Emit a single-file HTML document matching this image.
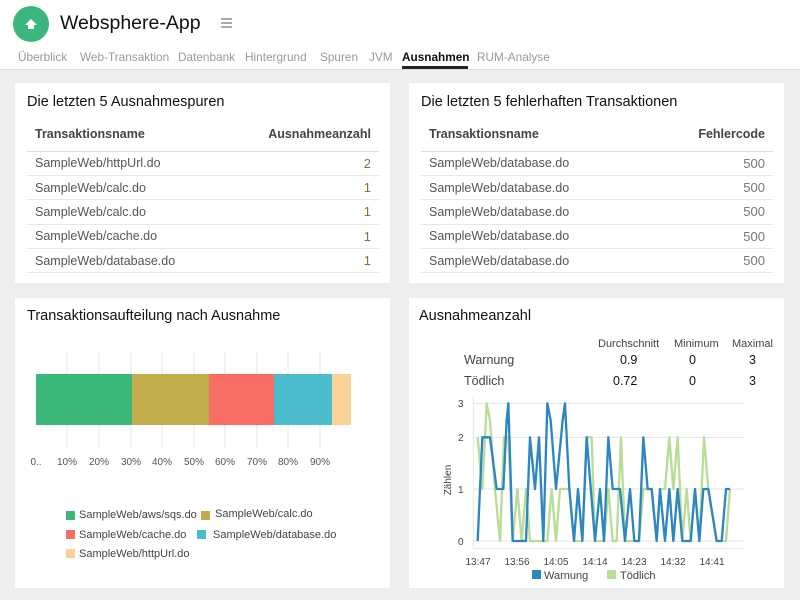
<!DOCTYPE html>
<html><head><meta charset="utf-8"><style>
*{margin:0;padding:0;box-sizing:border-box}
body{width:800px;height:600px;background:#eceef0;font-family:"Liberation Sans",sans-serif;position:relative;overflow:hidden;color:#222}
.hdr{position:absolute;left:0;top:0;width:800px;height:70px;background:#fff;border-bottom:1px solid #ddd}
.card{position:absolute;background:#fff}
.t{position:absolute;font-size:14.5px;color:#111}
table{position:absolute;border-collapse:collapse;font-size:12.5px}
td,th{height:24.4px;border-bottom:1px solid #e6e6e6;padding:0 8px;color:#555;font-weight:normal;text-align:left}
th{font-weight:bold;color:#444;font-size:12.5px;height:33px;border-bottom:1px solid #ddd}
.r{text-align:right}
.n{text-align:right;color:#8a6d3b;font-size:13px}
.g{text-align:right;color:#777;font-size:13px}
.s{position:absolute;font-size:11px;color:#444;white-space:nowrap}
.nv{position:absolute;top:50px;font-size:11.8px;color:#999;white-space:nowrap}
</style></head><body>
<div class="hdr">
<div style="position:absolute;left:13px;top:6px;width:36px;height:36px;border-radius:50%;background:#3bb77e"></div>
<svg style="position:absolute;left:24px;top:17px" width="14" height="14"><path d="M7 2 L13 8 L10 8 L10 12 L4 12 L4 8 L1 8 Z" fill="#fff"/></svg>
<div style="position:absolute;left:60px;top:12px;font-size:19.5px;color:#111">Websphere-App</div>
<div style="position:absolute;left:221px;top:18px;width:11px;height:2px;background:#aaa;box-shadow:0 4px 0 #aaa,0 8px 0 #aaa"></div>
<div class="nv" style="left:18px">Überblick</div>
<div class="nv" style="left:80px">Web-Transaktion</div>
<div class="nv" style="left:178px">Datenbank</div>
<div class="nv" style="left:245px">Hintergrund</div>
<div class="nv" style="left:320px">Spuren</div>
<div class="nv" style="left:369px">JVM</div>
<div class="nv" style="left:402px;color:#111;font-weight:bold;width:66px;border-bottom:3px solid #222;height:19px">Ausnahmen</div>
<div class="nv" style="left:477px">RUM-Analyse</div>
</div>

<div class="card" style="left:15px;top:83px;width:375px;height:200px">
<div class="t" style="left:12px;top:11px">Die letzten 5 Ausnahmespuren</div>
<table style="left:12px;top:35px;width:352px">
<tr><th>Transaktionsname</th><th class="r">Ausnahmeanzahl</th></tr>
<tr><td>SampleWeb/httpUrl.do</td><td class="n">2</td></tr>
<tr><td>SampleWeb/calc.do</td><td class="n">1</td></tr>
<tr><td>SampleWeb/calc.do</td><td class="n">1</td></tr>
<tr><td>SampleWeb/cache.do</td><td class="n">1</td></tr>
<tr><td>SampleWeb/database.do</td><td class="n">1</td></tr>
</table></div>

<div class="card" style="left:409px;top:83px;width:375px;height:200px">
<div class="t" style="left:12px;top:11px">Die letzten 5 fehlerhaften Transaktionen</div>
<table style="left:12px;top:35px;width:352px">
<tr><th>Transaktionsname</th><th class="r">Fehlercode</th></tr>
<tr><td>SampleWeb/database.do</td><td class="g">500</td></tr>
<tr><td>SampleWeb/database.do</td><td class="g">500</td></tr>
<tr><td>SampleWeb/database.do</td><td class="g">500</td></tr>
<tr><td>SampleWeb/database.do</td><td class="g">500</td></tr>
<tr><td>SampleWeb/database.do</td><td class="g">500</td></tr>
</table></div>

<div class="card" style="left:15px;top:298px;width:375px;height:290px">
<div class="t" style="left:12px;top:10px">Transaktionsaufteilung nach Ausnahme</div></div>
<svg style="position:absolute;left:0;top:0" width="800" height="600">
<g stroke="#e4e4e4" stroke-width="1">
<line x1="67" y1="352" x2="67" y2="448"/><line x1="99" y1="352" x2="99" y2="448"/><line x1="131" y1="352" x2="131" y2="448"/><line x1="162" y1="352" x2="162" y2="448"/><line x1="194" y1="352" x2="194" y2="448"/><line x1="225" y1="352" x2="225" y2="448"/><line x1="257" y1="352" x2="257" y2="448"/><line x1="288" y1="352" x2="288" y2="448"/><line x1="320" y1="352" x2="320" y2="448"/>
</g>
<rect x="36" y="374" width="96" height="51" fill="#3bb77a"/>
<rect x="132" y="374" width="77" height="51" fill="#c1ad4a"/>
<rect x="209" y="374" width="65" height="51" fill="#f76c63"/>
<rect x="274" y="374" width="58" height="51" fill="#4bbccc"/>
<rect x="332" y="374" width="19" height="51" fill="#f8d296"/>
<g font-size="10" fill="#555" font-family="Liberation Sans" text-anchor="middle">
<text x="36" y="465">0..</text><text x="67" y="465">10%</text><text x="99" y="465">20%</text><text x="131" y="465">30%</text><text x="162" y="465">40%</text><text x="194" y="465">50%</text><text x="225" y="465">60%</text><text x="257" y="465">70%</text><text x="288" y="465">80%</text><text x="320" y="465">90%</text>
</g>
<rect x="66" y="511" width="9" height="9" fill="#3bb77a"/><rect x="201" y="511" width="9" height="9" fill="#c1ad4a"/>
<rect x="66" y="530" width="9" height="9" fill="#f76c63"/><rect x="197" y="530" width="9" height="9" fill="#4bbccc"/>
<rect x="66" y="549" width="9" height="9" fill="#f8d296"/>
</svg>
<div class="s" style="left:79px;top:509px">SampleWeb/aws/sqs.do</div>
<div class="s" style="left:215px;top:508px">SampleWeb/calc.do</div>
<div class="s" style="left:79px;top:529px">SampleWeb/cache.do</div>
<div class="s" style="left:213px;top:529px">SampleWeb/database.do</div>
<div class="s" style="left:79px;top:548px">SampleWeb/httpUrl.do</div>

<div class="card" style="left:409px;top:298px;width:375px;height:290px">
<div class="t" style="left:10px;top:10px">Ausnahmeanzahl</div></div>
<div class="s" style="left:598px;top:338px">Durchschnitt</div>
<div class="s" style="left:674px;top:338px">Minimum</div>
<div class="s" style="left:732px;top:338px">Maximal</div>
<div class="s" style="left:464px;top:353px;font-size:12.5px">Warnung</div>
<div class="s" style="left:464px;top:374px;font-size:12.5px">Tödlich</div>
<div class="s" style="left:620px;top:353px;font-size:12.5px;color:#111">0.9</div>
<div class="s" style="left:689px;top:353px;font-size:12.5px;color:#111">0</div>
<div class="s" style="left:749px;top:353px;font-size:12.5px;color:#111">3</div>
<div class="s" style="left:613px;top:374px;font-size:12.5px;color:#111">0.72</div>
<div class="s" style="left:689px;top:374px;font-size:12.5px;color:#111">0</div>
<div class="s" style="left:749px;top:374px;font-size:12.5px;color:#111">3</div>
<svg style="position:absolute;left:0;top:0" width="800" height="600">
<g transform="translate(440,390) scale(0.33333)">
<g stroke="#e6e6e6" stroke-width="3"><line x1="100" y1="40" x2="915" y2="40"/><line x1="100" y1="142" x2="915" y2="142"/><line x1="100" y1="297" x2="915" y2="297"/><line x1="100" y1="453" x2="915" y2="453"/><line x1="100" y1="475" x2="915" y2="475"/><line x1="100" y1="20" x2="100" y2="475"/></g>
<polyline fill="none" stroke="#b9dc97" stroke-width="7" stroke-linejoin="round" points="113,142 127,297 140,40 150,91 165,297 180,453 192,142 205,142 218,453 232,297 245,453 258,297 270,453 322,453 335,297 348,453 360,297 388,297 402,453 427,453 440,142 455,142 465,453 492,453 505,297 518,453 530,453 543,142 555,453 583,453 597,453 610,297 635,297 650,453 660,297 675,297 688,142 700,297 713,142 727,453 740,297 752,453 765,297 778,453 792,142 805,297 830,453 858,453 870,297"/>
<polyline fill="none" stroke="#2e86c1" stroke-width="7" stroke-linejoin="round" points="113,453 127,142 150,142 170,297 190,297 200,91 205,40 218,453 258,453 270,142 285,297 297,142 310,453 322,40 332,91 348,297 368,91 375,40 388,297 402,453 414,297 427,453 440,142 465,453 480,297 492,453 505,142 518,297 540,297 555,453 570,297 583,453 597,453 610,142 623,297 635,297 650,453 660,297 675,453 688,297 700,453 713,297 727,453 752,453 765,297 778,453 790,297 805,297 830,453 845,453 858,297 870,297"/>
</g>
<g font-size="10" fill="#444" font-family="Liberation Sans">
<text x="458" y="407">3</text><text x="458" y="441">2</text><text x="458" y="493">1</text><text x="458" y="545">0</text>
<text x="451" y="480" transform="rotate(-90 451 480)" text-anchor="middle">Zählen</text>
<g text-anchor="middle"><text x="478" y="565">13:47</text><text x="517" y="565">13:56</text><text x="556" y="565">14:05</text><text x="595" y="565">14:14</text><text x="634" y="565">14:23</text><text x="673" y="565">14:32</text><text x="712" y="565">14:41</text></g>
<text x="544" y="579" font-size="11">Warnung</text><text x="620" y="579" font-size="11">Tödlich</text>
</g>
<rect x="532" y="570" width="9" height="9" fill="#2e86c1"/><rect x="607" y="570" width="9" height="9" fill="#b9dc97"/>
</svg>
</body></html>
